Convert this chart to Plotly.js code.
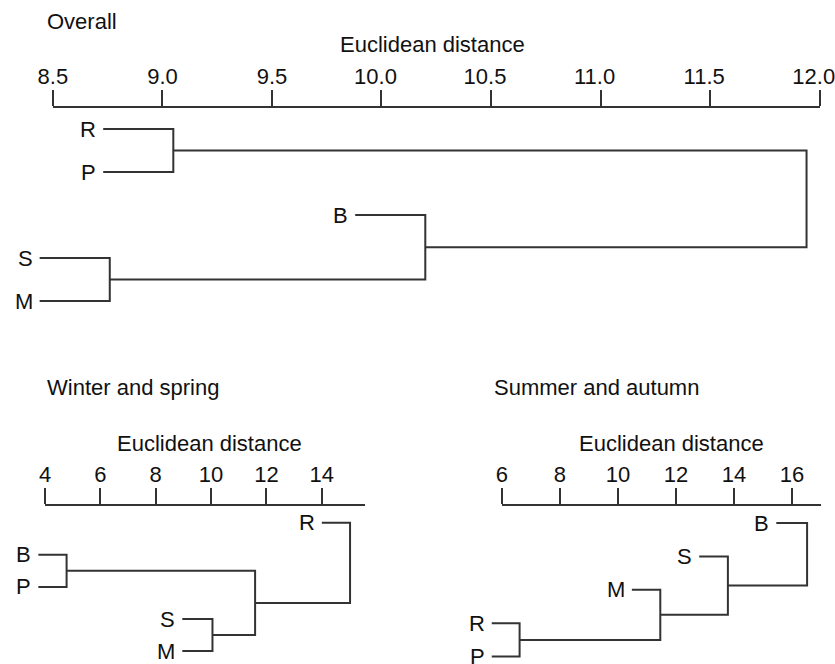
<!DOCTYPE html>
<html>
<head>
<meta charset="utf-8">
<script src="https://cdn.plot.ly/plotly-3.0.1.min.js"></script>
<style>html,body{margin:0;padding:0;background:#fff;}#chart{width:835px;height:664px;}</style>
</head>
<body>
<div id="chart"></div>
<script>
// ---------- DATA ----------
// Overall
const overallLabels = ["R", "P", "B", "S", "M"];
const overallLeafStart = [8.73, 8.73, 9.88, 8.44, 8.44];
const overallMergeA = [0, 3, 2, 5];
const overallMergeB = [1, 4, 6, 7];
const overallMergeHeight = [9.05, 8.76, 10.20, 11.94];
const overallTickVals = [8.5, 9.0, 9.5, 10.0, 10.5, 11.0, 11.5, 12.0];
const overallTickText = ["8.5", "9.0", "9.5", "10.0", "10.5", "11.0", "11.5", "12.0"];

// Winter and spring
const winterLabels = ["R", "B", "P", "S", "M"];
const winterLeafStart = [14.0, 3.76, 3.76, 8.96, 8.96];
const winterMergeA = [1, 3, 5, 0];
const winterMergeB = [2, 4, 6, 7];
const winterMergeHeight = [4.78, 10.05, 11.59, 15.02];
const winterTickVals = [4, 6, 8, 10, 12, 14];
const winterTickText = ["4", "6", "8", "10", "12", "14"];

// Summer and autumn
const summerLabels = ["B", "S", "M", "R", "P"];
const summerLeafStart = [15.46, 12.80, 10.48, 5.65, 5.65];
const summerMergeA = [3, 2, 1, 0];
const summerMergeB = [4, 5, 6, 7];
const summerMergeHeight = [6.61, 11.46, 13.79, 16.52];
const summerTickVals = [6, 8, 10, 12, 14, 16];
const summerTickText = ["6", "8", "10", "12", "14", "16"];

const panelTitles = ["Overall", "Winter and spring", "Summer and autumn"];
const axisTitle = "Euclidean distance";

// ---------- LAYOUT HELPERS ----------
const W = 835, H = 664;
const FONT = "Liberation Sans, Arial, Helvetica, sans-serif";
const LINE = "#333333";
const TXT = "#111111";
const FS = 22;

function fy(p) { return 1 - p / H; }

function buildDendro(leafStart, mA, mB, mH) {
  const nx = leafStart.slice();
  const ny = leafStart.map((_, i) => i);
  const xs = [], ys = [];
  mH.forEach((h, k) => {
    const a = mA[k], b = mB[k];
    xs.push(nx[a], h, h, nx[b], null);
    ys.push(ny[a], ny[a], ny[b], ny[b], null);
    nx.push(h);
    ny.push((ny[a] + ny[b]) / 2);
  });
  return { xs, ys };
}

// In the original, the 4-character labels of the top ruler sit ~6px left of their ticks
// while the short ones are centred: shift the whole axis left and pad the short ones back.
const NB = "\u00a0\u00a0";
const overallTickShown = overallTickText.map(t => (t.length > 3 ? t : NB + t));

// panel geometry (pixels)
const panels = [
  { labels: overallLabels, start: overallLeafStart, mA: overallMergeA, mB: overallMergeB, mH: overallMergeHeight,
    tv: overallTickVals, tt: overallTickShown, r0: 8.5, r1: 12.0, shift: -6,
    axL: 52.8, axR: 819.7, axY: 108, bottom: 330, leaf0: 129, step: 43,
    title: panelTitles[0], titleX: 45, titleY: 22, atX: 432, atY: 45 },
  { labels: winterLabels, start: winterLeafStart, mA: winterMergeA, mB: winterMergeB, mH: winterMergeHeight,
    tv: winterTickVals, tt: winterTickText, r0: 4, r1: 15.56, shift: 0,
    axL: 45, axR: 365, axY: 506, bottom: 664, leaf0: 522.7, step: 32.1,
    title: panelTitles[1], titleX: 45, titleY: 387, atX: 209.5, atY: 443 },
  { labels: summerLabels, start: summerLeafStart, mA: summerMergeA, mB: summerMergeB, mH: summerMergeHeight,
    tv: summerTickVals, tt: summerTickText, r0: 6, r1: 17.01, shift: 0,
    axL: 501.9, axR: 821.3, axY: 506, bottom: 664, leaf0: 523, step: 33.4,
    title: panelTitles[2], titleX: 491.7, titleY: 387, atX: 671, atY: 443 }
];

const traces = [];
const layout = {
  width: W, height: H,
  margin: { l: 0, r: 0, t: 0, b: 0 },
  paper_bgcolor: "#ffffff",
  plot_bgcolor: "rgba(0,0,0,0)",
  showlegend: false,
  font: { family: FONT, size: FS, color: TXT },
  annotations: []
};

panels.forEach((p, i) => {
  const n = i + 1;
  const sx = n === 1 ? "x" : "x" + n;            // scale axis (visible ruler)
  const tx = "x" + (n + 3);                        // full-width axis carrying the tree
  const yy = n === 1 ? "y" : "y" + n;
  const sxKey = n === 1 ? "xaxis" : "xaxis" + n;
  const txKey = "xaxis" + (n + 3);
  const yKey = n === 1 ? "yaxis" : "yaxis" + n;

  const u = (p.r1 - p.r0) / (p.axR - p.axL);
  const idx = (px) => (px - p.leaf0) / p.step;

  layout[sxKey] = {
    domain: [p.axL / W, p.axR / W], range: [p.r0, p.r1], anchor: yy, side: "top",
    showline: true, linecolor: LINE, linewidth: 2,
    ticks: "outside", ticklen: 16, tickwidth: 2, tickcolor: LINE,
    tickvals: p.tv, ticktext: p.tt, tickfont: { family: FONT, size: FS, color: TXT },
    ticklabeloverflow: "allow", ticklabelstandoff: -3, ticklabelshift: p.shift, automargin: false,
    showgrid: false, zeroline: false, fixedrange: true
  };
  layout[txKey] = {
    domain: [0, 1], range: [p.r0 - p.axL * u, p.r0 + (W - p.axL) * u], anchor: yy,
    visible: false, showgrid: false, zeroline: false, fixedrange: true
  };
  layout[yKey] = {
    domain: [fy(p.bottom), fy(p.axY)], range: [idx(p.bottom), idx(p.axY)],
    visible: false, showgrid: false, zeroline: false, fixedrange: true
  };

  // empty trace so the ruler axis gets its own subplot and is drawn
  traces.push({
    type: "scatter", mode: "lines", x: [p.r0], y: [null], xaxis: sx, yaxis: yy,
    hoverinfo: "skip", line: { color: "rgba(0,0,0,0)" }
  });

  const d = buildDendro(p.start, p.mA, p.mB, p.mH);
  traces.push({
    type: "scatter", mode: "lines", x: d.xs, y: d.ys, xaxis: tx, yaxis: yy,
    line: { color: LINE, width: 2, shape: "linear" }, hoverinfo: "skip", connectgaps: false
  });

  p.labels.forEach((lab, k) => {
    layout.annotations.push({
      xref: tx, yref: yy, x: p.start[k], y: k, text: lab, showarrow: false,
      xanchor: "right", yanchor: "middle", xshift: -5,
      font: { family: FONT, size: FS, color: TXT }
    });
  });

  layout.annotations.push({
    xref: "paper", yref: "paper", x: p.titleX / W, y: fy(p.titleY), text: p.title, showarrow: false,
    xanchor: "left", yanchor: "middle", font: { family: FONT, size: FS, color: TXT }
  });
  layout.annotations.push({
    xref: "paper", yref: "paper", x: p.atX / W, y: fy(p.atY), text: axisTitle, showarrow: false,
    xanchor: "center", yanchor: "middle", font: { family: FONT, size: FS, color: TXT }
  });
});

Plotly.newPlot("chart", traces, layout, { staticPlot: true, displayModeBar: false });
</script>
</body>
</html>
